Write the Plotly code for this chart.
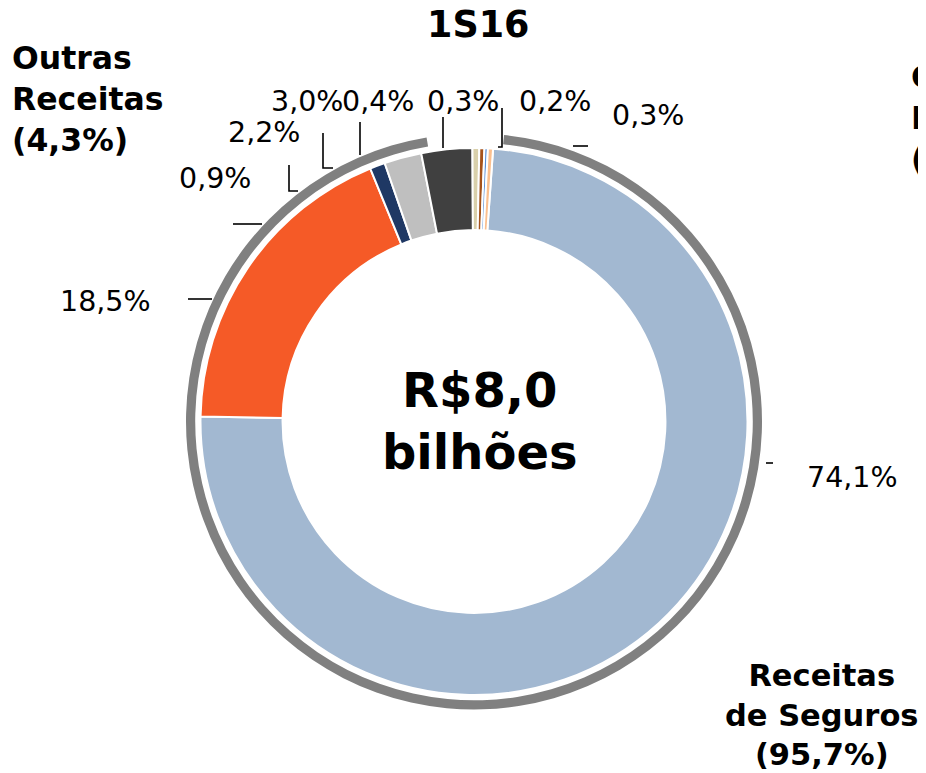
import plotly.graph_objects as go

# ---- data ----
slice_names = ["Seguros A", "Seguros B", "Seguros C", "Seguros D",
               "Outras A", "Outras B", "Outras C", "Outras D", "Outras E"]
slice_values = [74.1, 18.5, 0.9, 2.2, 3.0, 0.4, 0.3, 0.2, 0.3]
slice_colors = ["#a2b8d1", "#f55a27", "#1f3864", "#bfbfbf", "#404040",
                "#d9d0ab", "#a5521b", "#5b8fd6", "#fbbf8e"]
group_names = ["Receitas de Seguros", "Outras Receitas"]
group_values = [95.7, 4.3]
title_text = "1S16"
center_text = "R$8,0<br>bilhões"

W, H = 926, 773
OFF = 8  # page body margin
FONT = "DejaVu Sans"


def px(x):
    return (x - OFF) / W


def py(y):
    return 1 - (y - OFF) / H


def fmt(v):
    return f"{v:.1f}".replace(".", ",") + "%"


cx, cy, r_in, r_ring = 474, 421.5, 273.5, 288

fig = go.Figure()
fig.add_trace(go.Pie(
    labels=slice_names, values=slice_values, sort=False, direction="clockwise",
    rotation=4, hole=0.70,
    marker=dict(colors=slice_colors, line=dict(color="white", width=2)),
    textinfo="none", hoverinfo="label+percent", showlegend=False,
    domain=dict(x=[px(cx - r_in), px(cx + r_in)], y=[py(cy + r_in), py(cy - r_in)]),
))
fig.add_trace(go.Pie(
    labels=group_names, values=group_values, sort=False, direction="clockwise",
    rotation=6, hole=0.968,
    marker=dict(colors=["#808080", "rgba(0,0,0,0)"], line=dict(width=0)),
    textinfo="none", hoverinfo="label", showlegend=False,
    domain=dict(x=[px(cx - r_ring), px(cx + r_ring)], y=[py(cy + r_ring), py(cy - r_ring)]),
))

# label positions (pixel centers) for each slice value
label_pos = [(852, 477), (105, 302), (215, 178), (263.5, 133), (306.5, 101),
             (378, 101), (462.5, 101), (555, 101), (648, 116)]
annotations = []
for v, (x, y) in zip(slice_values, label_pos):
    annotations.append(dict(x=px(x), y=py(y), xref="paper", yref="paper",
                            text=fmt(v), showarrow=False, xanchor="center",
                            yanchor="middle", font=dict(family=FONT, size=28.5, color="black")))

annotations.append(dict(x=px(478), y=py(25), xref="paper", yref="paper", text="<b>" + title_text + "</b>",
                        showarrow=False, xanchor="center", yanchor="middle",
                        font=dict(family=FONT, size=36.5, color="black")))
annotations.append(dict(x=px(480), y=py(421), xref="paper", yref="paper", text="<b>" + center_text + "</b>",
                        showarrow=False, xanchor="center", yanchor="middle",
                        font=dict(family=FONT, size=48, color="black")))
annotations.append(dict(x=px(10), y=py(99), xref="paper", yref="paper",
                        text="<b>Outras<br>Receitas<br>(" + fmt(group_values[1]) + ")</b>",
                        showarrow=False, xanchor="left", yanchor="middle", align="left",
                        font=dict(family=FONT, size=31.5, color="black")))
annotations.append(dict(x=px(821), y=py(715), xref="paper", yref="paper",
                        text="<b>Receitas<br>de Seguros<br>(" + fmt(group_values[0]) + ")</b>",
                        showarrow=False, xanchor="center", yanchor="middle", align="center",
                        font=dict(family=FONT, size=30.5, color="black")))
annotations.append(dict(x=px(909), y=py(118), xref="paper", yref="paper",
                        text="<b>C<br>P<br>(</b>",
                        showarrow=False, xanchor="left", yanchor="middle", align="left",
                        font=dict(family=FONT, size=31.5, color="black")))

# leader lines
segs = [
    [(766, 463), (773, 463)],
    [(188, 299), (212, 299)],
    [(233, 224), (262, 224)],
    [(289, 165), (289, 191), (298, 191)],
    [(323, 133), (323, 168), (333, 168)],
    [(360, 122), (360, 155)],
    [(443, 117), (443, 148)],
    [(502, 108), (502, 147), (498, 147)],
    [(573, 146), (588, 146)],
]
shapes = []
for seg in segs:
    path = "M " + " L ".join(f"{px(x)},{py(y)}" for x, y in seg)
    shapes.append(dict(type="path", xref="paper", yref="paper", path=path,
                       line=dict(color="black", width=1.6)))

fig.update_layout(width=W, height=H, margin=dict(l=0, r=0, t=0, b=0),
                  paper_bgcolor="white", plot_bgcolor="white",
                  annotations=annotations, shapes=shapes, showlegend=False)
fig.write_html("out.html")
